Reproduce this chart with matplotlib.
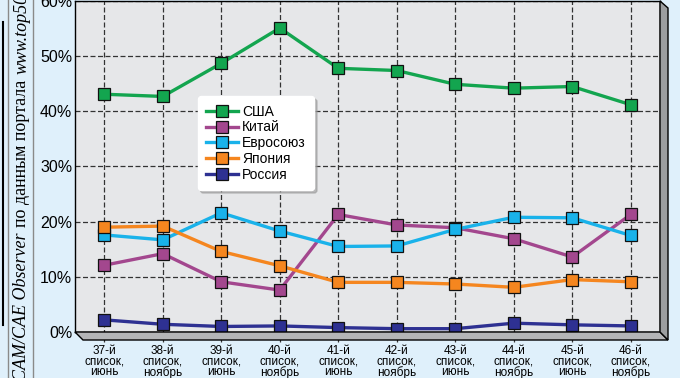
import matplotlib.pyplot as plt
from matplotlib.patches import Polygon

# Top500 share by country/region, lists 37..46
lists = ["37-й\nсписок,\nиюнь", "38-й\nсписок,\nноябрь", "39-й\nсписок,\nиюнь",
         "40-й\nсписок,\nноябрь", "41-й\nсписок,\nиюнь", "42-й\nсписок,\nноябрь",
         "43-й\nсписок,\nиюнь", "44-й\nсписок,\nноябрь", "45-й\nсписок,\nиюнь",
         "46-й\nсписок,\nноябрь"]
usa = [43.1, 42.7, 48.7, 55.1, 47.8, 47.4, 44.9, 44.2, 44.5, 41.2]
china = [12.1, 14.2, 9.1, 7.6, 21.3, 19.4, 18.9, 16.9, 13.6, 21.3]
eu = [17.6, 16.7, 21.6, 18.3, 15.5, 15.6, 18.6, 20.8, 20.7, 17.5]
japan = [19.0, 19.2, 14.6, 12.0, 9.0, 9.0, 8.7, 8.1, 9.5, 9.1]
russia = [2.2, 1.4, 1.0, 1.1, 0.8, 0.6, 0.6, 1.6, 1.3, 1.1]
yticks = [0, 10, 20, 30, 40, 50, 60]

series = [("США", usa, "#13a54f"), ("Китай", china, "#a3478e"),
          ("Евросоюз", eu, "#19b2ea"), ("Япония", japan, "#f5861f"),
          ("Россия", russia, "#2e3192")]

W, H = 680, 378
fig = plt.figure(figsize=(6.8, 3.78), dpi=100, facecolor="#dff0fb")


def px(x, y):
    # pixel coords (from top-left) -> figure fraction
    return (x / W, (H - y) / H)


# axes: face from x=75..660, y=1..332 (pixels from top)
ax = fig.add_axes([75 / W, (H - 332) / H, 585 / W, 331 / H])
ax.set_facecolor("#e6e7e9")
ax.set_xlim(-0.5, 9.5)
ax.set_ylim(0, 60)

# 3D box: floor and right side
floor = Polygon([px(75, 332), px(660, 332), px(668, 340), px(83, 340)],
                closed=True, transform=fig.transFigure, facecolor="#b4b5b7",
                edgecolor="black", linewidth=1.0, zorder=0)
side = Polygon([px(660, 1), px(668, 8), px(668, 340), px(660, 332)],
               closed=True, transform=fig.transFigure, facecolor="#9c9ea0",
               edgecolor="black", linewidth=1.0, zorder=0)
fig.patches.extend([floor, side])

# grid
for y in yticks[1:]:
    ax.axhline(y, color="#333333", lw=0.9, ls=(0, (4, 2)), zorder=1)
for i in range(len(lists)):
    ax.plot([i, i], [-1.9, 60], color="#333333", lw=0.9, ls=(0, (4, 2)),
            zorder=1, clip_on=False)

for name, vals, col in series:
    ax.plot(range(len(vals)), vals, color=col, lw=2.4, marker="s", ms=8,
            mfc=col, mec="#111111", mew=0.9, label=name, zorder=3)

for s in ax.spines.values():
    s.set_color("black")
    s.set_linewidth(1.0)

ax.set_yticks(yticks)
ax.set_yticklabels([f"{v}%" for v in yticks], fontsize=11.5,
                   family="Liberation Sans")
ax.set_xticks(range(len(lists)))
ax.set_xticklabels(lists, fontsize=8.5, family="Liberation Sans",
                   linespacing=0.84)
ax.tick_params(axis="y", length=0, pad=2)
ax.tick_params(axis="x", length=0, pad=9.5)

leg = ax.legend(loc="upper left", bbox_to_anchor=(0.198, 0.733),
                prop={"family": "Liberation Sans", "size": 10},
                frameon=True, fancybox=True, framealpha=1,
                edgecolor="white", facecolor="white",
                shadow={"color": "#9a9a9a", "alpha": 0.6},
                handlelength=2.3, handletextpad=0.3, labelspacing=0.13,
                borderpad=0.6)

# left side caption (rotated, clipped by figure edge)
fig.add_artist(plt.Line2D([3 / W, 3 / W], [px(0, 325)[1], px(0, 22)[1]],
                          color="black", lw=1.5))
for xx in (8, 33):
    fig.add_artist(plt.Line2D([xx / W, xx / W], [0, 1], color="#8a8a8a", lw=1))
serif = "Liberation Serif"
fs = 13
fig.text(22 / W, px(0, 233)[1], "CAD/CAM/CAE Observer", rotation=90,
         ha="center", va="top", family=serif, style="italic", fontsize=fs)
fig.text(22 / W, px(0, 227)[1], "по данным портала", rotation=90,
         ha="center", va="bottom", family=serif, fontsize=fs)
fig.text(22 / W, px(0, 74)[1], "www.top500.org", rotation=90,
         ha="center", va="bottom", family=serif, style="italic", fontsize=fs)

fig.savefig("out.png", dpi=100, facecolor=fig.get_facecolor())
